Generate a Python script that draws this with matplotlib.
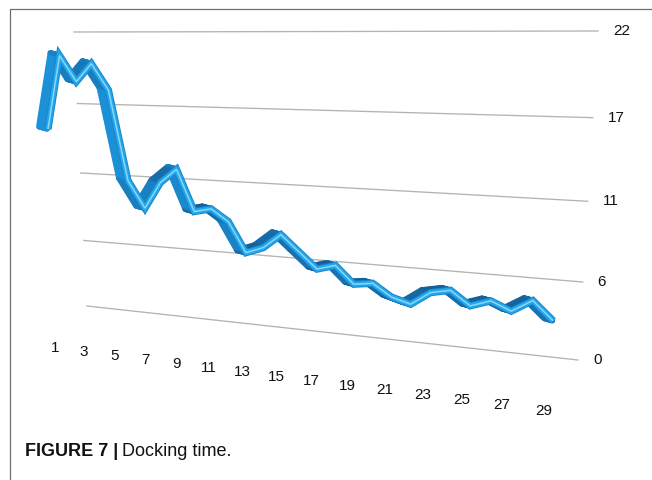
import numpy as np
import matplotlib
matplotlib.use("Agg")
import matplotlib.pyplot as plt
from matplotlib.transforms import Transform, Affine2D
from matplotlib.colors import to_rgb

categories = np.arange(1, 30)
docking_time = np.array([14.4, 20.2, 18.2, 19.6, 17.6, 10.6, 8.5, 10.6, 11.7, 8.5,
                         8.8, 7.9, 5.6, 6.1, 7.2, 6.0, 4.8, 5.2, 3.9, 4.1,
                         3.2, 2.8, 3.8, 4.1, 3.1, 3.6, 3.0, 3.9, 2.6])
grid_values = [0, 5.5, 11, 16.5, 22]
grid_labels = ["0", "6", "11", "17", "22"]
shown_categories = categories[::2]

W, H = 652, 480

# back wall of the 3d chart: (category, value) corners -> pixel corners
cat_lo, cat_hi = 3.0, 30.25
wall_src = [(cat_lo, 22), (cat_hi, 22), (cat_lo, 0), (cat_hi, 0)]
wall_dst = [(74, H - 32), (598, H - 31), (87, H - 306), (578, H - 360)]


class Perspective(Transform):
    """Plane homography from (category, value) to display pixels."""
    input_dims = output_dims = 2

    def __init__(self, src, dst):
        super().__init__()
        rows, rhs = [], []
        for (x, y), (u, v) in zip(src, dst):
            rows.append([x, y, 1, 0, 0, 0, -u * x, -u * y])
            rows.append([0, 0, 0, x, y, 1, -v * x, -v * y])
            rhs += [u, v]
        h = np.linalg.solve(np.array(rows, float), np.array(rhs, float))
        self.mat = np.append(h, 1).reshape(3, 3)

    def transform_non_affine(self, values):
        values = np.asarray(values, float)
        p = np.column_stack([values, np.ones(len(values))]) @ self.mat.T
        return p[:, :2] / p[:, 2:]


plt.rcParams['font.family'] = ['Liberation Sans', 'DejaVu Sans']

fig = plt.figure(figsize=(W / 100, H / 100), dpi=100)
ax = fig.add_axes([0, 0, 1, 1])
ax.set_axis_off()
persp = Perspective(wall_src, wall_dst)

# frame
ax.plot([9.5 / W, 9.5 / W, 1], [0, 1 - 8.5 / H, 1 - 8.5 / H],
        transform=fig.transFigure, color='#6e6e6e', lw=0.9)

# gridlines + value labels
for v, lab in zip(grid_values, grid_labels):
    ax.plot([cat_lo, cat_hi], [v, v], transform=persp, color='#b3b3b3', lw=0.95, zorder=1)
    ax.text(cat_hi, v, lab, transform=persp + Affine2D().translate(15, 0),
            ha='left', va='center', fontsize=11, color='#111111')

# category labels along the front edge
label_shift = persp + Affine2D().translate(-5, -3)
for c in shown_categories:
    ax.text(c, -3.7, str(c), transform=label_shift, ha='center', va='center',
            fontsize=11, color='#111111')

# ribbon: depth faces swept back from the front edge, then the front face
front = persp.transform(np.column_stack([categories, docking_time]))
navy = np.array(to_rgb('#15609a'))
blue = np.array(to_rgb('#1b93da'))
depth = np.array([-9.0, 2.5])
for s in np.linspace(1, 0.1, 10):
    shift = persp + Affine2D().translate(*(depth * s))
    for i in range(len(categories) - 1):
        dx, dy = front[i + 1] - front[i]
        t = abs(dy) / np.hypot(dx, dy)
        face = navy + (blue - navy) * t ** 3
        ax.plot(categories[i:i + 2], docking_time[i:i + 2], transform=shift,
                color=face, lw=4.2, solid_capstyle='round', zorder=3)

ax.plot(categories, docking_time, transform=persp, color='#1786cc', lw=5.2,
        solid_joinstyle='miter', solid_capstyle='butt', zorder=4)
ax.plot(categories, docking_time, transform=persp, color='#25a6ea', lw=3.8,
        solid_joinstyle='miter', solid_capstyle='butt', zorder=5)
ax.plot(categories, docking_time, transform=persp, color='#86d8f9', lw=1.1,
        solid_joinstyle='miter', solid_capstyle='butt', zorder=6)

# caption
t1 = fig.text(25 / W, 1 - 452 / H, "FIGURE 7 |", fontweight='bold',
              fontsize=13, va='center', color='#111111')
ax.annotate("Docking time.", xy=(1, 0.5), xycoords=t1, xytext=(3, 0),
            textcoords='offset points', va='center', fontsize=13, color='#111111')

fig.savefig('out.png', dpi=100)
